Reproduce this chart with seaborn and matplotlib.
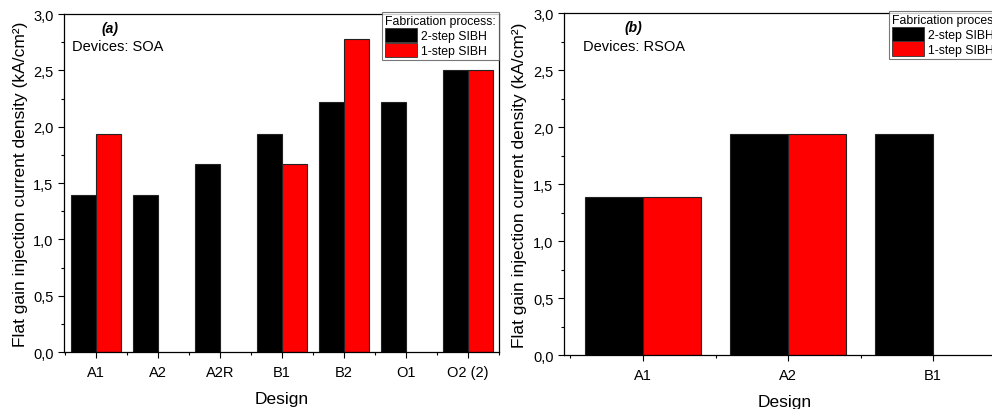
import numpy as np
import pandas as pd
import matplotlib
matplotlib.use("Agg")
import matplotlib.pyplot as plt
import seaborn as sns
from matplotlib.ticker import FuncFormatter, MultipleLocator, FixedLocator

# ----------------------------------------
# Data
# ----------------------------------------
designs_soa = ["A1", "A2", "A2R", "B1", "B2", "O1", "O2 (2)"]
soa_2step = [1.39, 1.39, 1.67, 1.94, 2.22, 2.22, 2.50]
soa_1step = [1.94, np.nan, np.nan, 1.67, 2.78, np.nan, 2.50]

designs_rsoa = ["A1", "A2", "B1"]
rsoa_2step = [1.39, 1.94, 1.94]
rsoa_1step = [1.39, 1.94, np.nan]

processes = ["2-step SIBH", "1-step SIBH"]
colors = ["#000000", "#ff0000"]


def to_long(designs, two, one):
    df = pd.DataFrame({"Design": designs, processes[0]: two, processes[1]: one})
    return df.melt(id_vars="Design", var_name="process", value_name="J")


sns.set_style("ticks")
plt.rcParams["font.family"] = ["Liberation Sans", "DejaVu Sans"]
plt.rcParams["text.color"] = "black"
plt.rcParams["axes.labelcolor"] = "black"
plt.rcParams["xtick.color"] = "black"
plt.rcParams["ytick.color"] = "black"

fig = plt.figure(figsize=(9.92, 4.10), dpi=100)
ax1 = fig.add_axes([0.0645, 0.139, 0.4385, 0.824])
ax2 = fig.add_axes([0.5685, 0.1317, 0.4456, 0.834])

panels = [
    (ax1, to_long(designs_soa, soa_2step, soa_1step), "(a)", "Devices: SOA",
     (-0.516, 6.5), 0.106, 0.018),
    (ax2, to_long(designs_rsoa, rsoa_2step, rsoa_1step), "(b)", "Devices: RSOA",
     (-0.545, 2.503), 0.158, 0.043),
]

comma = FuncFormatter(lambda v, p: f"{v:.1f}".replace(".", ","))

for ax, df, tag, dev, xlim, tag_x, dev_x in panels:
    sns.barplot(data=df, x="Design", y="J", hue="process", hue_order=processes,
                palette=colors, width=0.8, edgecolor="#222222", linewidth=0.8,
                saturation=1, ax=ax, legend=False)

    ax.set_xlim(*xlim)
    ax.set_ylim(0, 3.0)
    ax.yaxis.set_major_locator(MultipleLocator(0.5))
    ax.yaxis.set_minor_locator(MultipleLocator(0.25))
    ax.yaxis.set_major_formatter(comma)
    n = df["Design"].nunique()
    ax.xaxis.set_minor_locator(FixedLocator(np.arange(-0.5, n, 1.0)))

    ax.tick_params(axis="both", which="major", direction="out", length=4,
                   width=0.8, labelsize=10.5, color="black")
    ax.tick_params(axis="x", which="major", pad=5)
    ax.tick_params(axis="both", which="minor", direction="out", length=2.5,
                   width=0.8, color="black")
    for s in ax.spines.values():
        s.set_visible(True)
        s.set_color("black")
        s.set_linewidth(0.9)

    ax.set_xlabel("Design", fontsize=12.5, labelpad=9)
    ax.set_ylabel("Flat gain injection current density (kA/cm²)", fontsize=12.5, labelpad=4)

    ax.text(tag_x, 0.96, tag, transform=ax.transAxes, fontsize=10,
            fontweight="bold", fontstyle="italic", ha="center", va="center")
    ax.text(dev_x, 0.905, dev, transform=ax.transAxes, fontsize=10.5,
            ha="left", va="center")

    handles = [plt.Rectangle((0, 0), 1, 1, facecolor=c, edgecolor="#333333", linewidth=0.6)
               for c in colors]
    leg = ax.legend(handles, processes, title="Fabrication process:", loc="upper right",
                    bbox_to_anchor=(1.0, 1.006), borderaxespad=0, fontsize=8.8,
                    title_fontsize=8.8, frameon=True, fancybox=False,
                    handlelength=2.6, handleheight=1.4, handletextpad=0.35,
                    labelspacing=0.05, borderpad=0.25, alignment="left")
    leg.get_frame().set_edgecolor("#555555")
    leg.get_frame().set_linewidth(0.8)

fig.savefig("out.png", dpi=100)
